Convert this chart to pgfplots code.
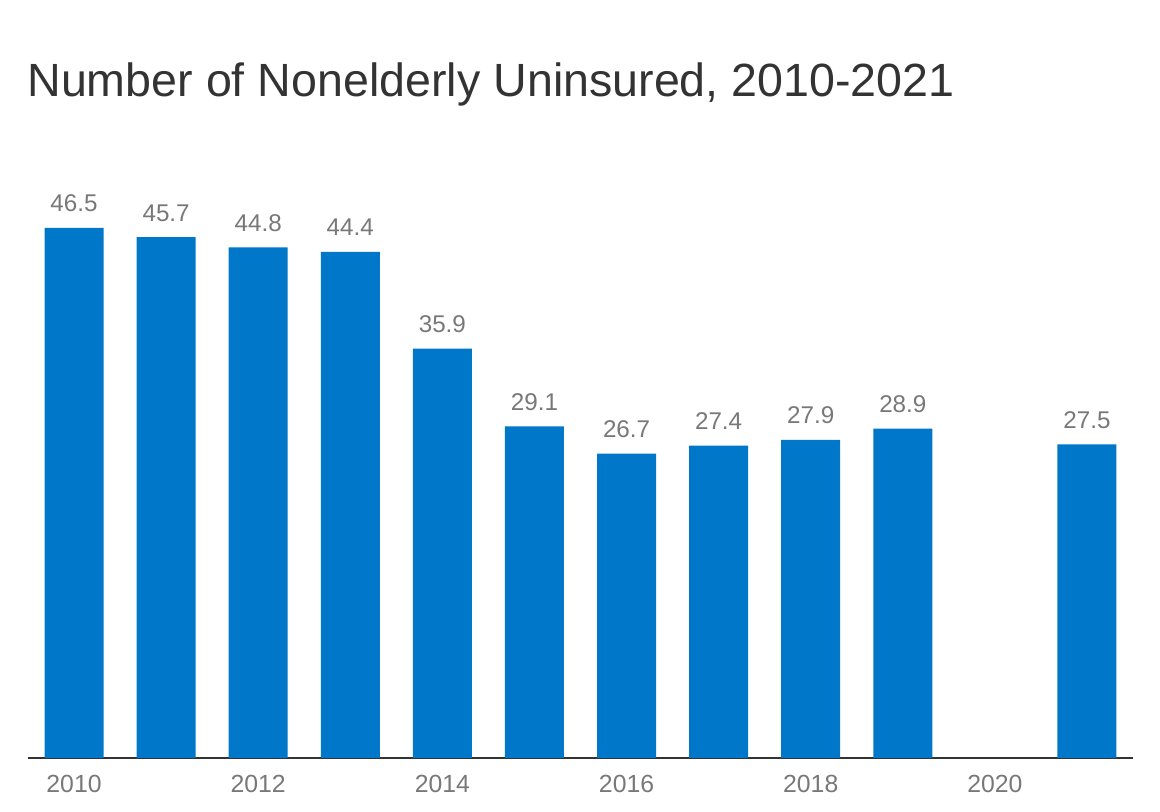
\documentclass[border=0pt]{standalone}
\usepackage{pgfplots}
\pgfplotsset{compat=1.18}
\usepackage{fontspec}
\setmainfont{Liberation Sans}
\definecolor{barblue}{RGB}{0,119,200}
\definecolor{labgray}{RGB}{120,120,120}
\definecolor{titlegray}{RGB}{51,51,51}
\begin{document}
\begin{tikzpicture}
\useasboundingbox (-14pt,-27pt) rectangle (566pt,379pt);
\begin{axis}[
  at={(0,0)}, anchor=south west,
  scale only axis,
  width=552.5pt, height=285pt,
  xmin=2009.5, xmax=2021.5,
  ymin=0, ymax=50,
  axis x line*=bottom,
  axis y line=none,
  x axis line style={draw=titlegray, line width=0.75pt, -},
  xtick={2010,2012,2014,2016,2018,2020},
  major tick length=0pt,
  /pgf/number format/assume math mode=true,
  xticklabel={\pgfmathprintnumber[1000 sep={}]{\tick}},
  xticklabel style={font=\fontsize{12.4pt}{14pt}\selectfont, text=labgray, anchor=base, yshift=-17.5pt, inner sep=0pt},
  clip=false,
  ybar, bar width=29.5pt,
  nodes near coords,
  nodes near coords style={font=\fontsize{12.1pt}{14pt}\selectfont, text=labgray, anchor=base, yshift=8pt, inner sep=0pt,
    /pgf/number format/fixed, /pgf/number format/precision=1, /pgf/number format/fixed zerofill},
]
\addplot[fill=barblue, draw=none] coordinates {
(2010,46.5) (2011,45.7) (2012,44.8) (2013,44.4) (2014,35.9) (2015,29.1)
(2016,26.7) (2017,27.4) (2018,27.9) (2019,28.9) (2021,27.5)
};
\end{axis}
\node[anchor=base west, inner sep=0pt, text=titlegray, font=\fontsize{23.3pt}{28pt}\selectfont] at (-0.5pt,330.5pt) {Number of Nonelderly Uninsured, 2010-2021};
\end{tikzpicture}
\end{document}
